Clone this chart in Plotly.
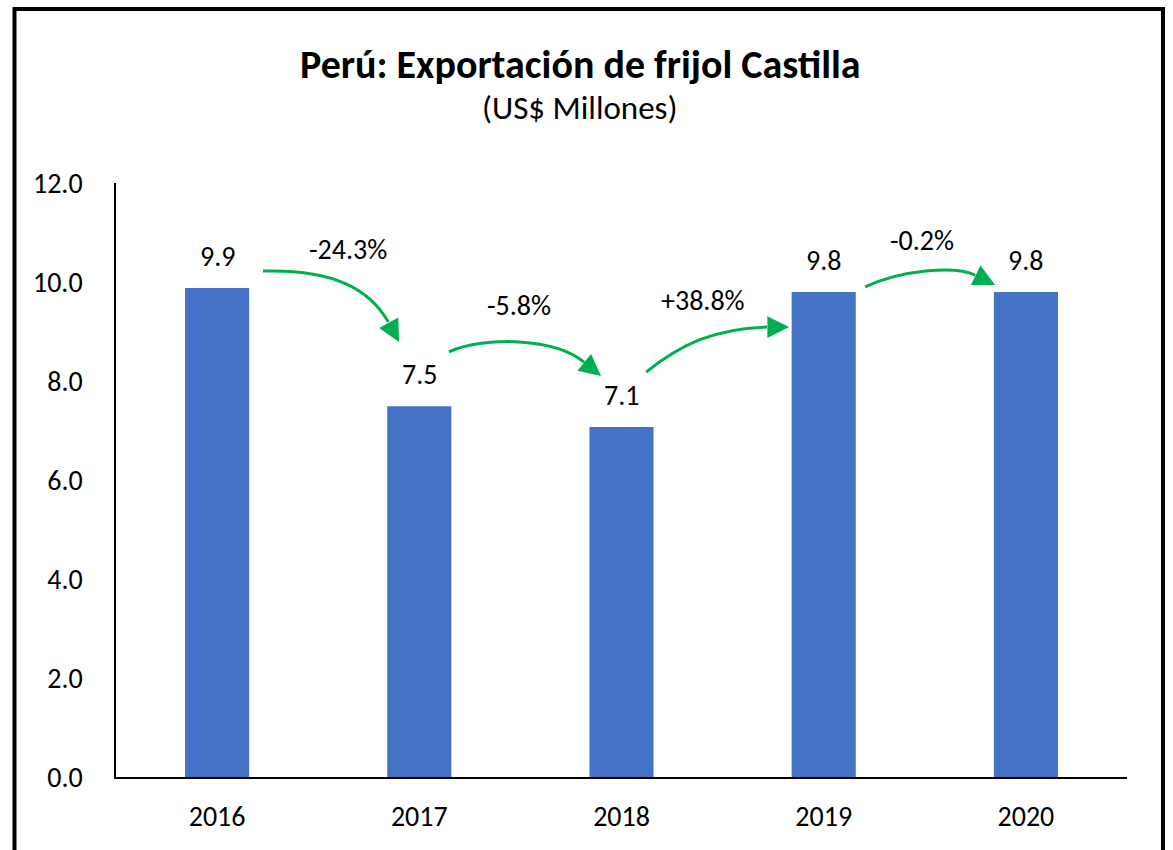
import plotly.graph_objects as go

years = ["2016", "2017", "2018", "2019", "2020"]
values = [9.88, 7.49, 7.07, 9.80, 9.80]
value_labels = ["9.9", "7.5", "7.1", "9.8", "9.8"]
change_labels = ["-24.3%", "-5.8%", "+38.8%", "-0.2%"]
y_ticks = [0, 2, 4, 6, 8, 10, 12]

BLUE = "#4472C4"
GREEN = "#00B050"
FONT = "Carlito, Lato, sans-serif"

x = list(range(len(years)))

fig = go.Figure(go.Bar(
    x=x, y=values, width=0.317, marker_color=BLUE, marker_line_width=0,
    hoverinfo="skip",
))

# value labels above bars
for i, v in enumerate(values):
    fig.add_annotation(x=i, y=v, text=value_labels[i], showarrow=False,
                       yanchor="bottom", yshift=12,
                       font=dict(size=28, color="black", family=FONT))

# curved arrows between bars (bezier control points in data units)
arrows = [
    [(0.227, 10.22), (0.584, 10.26), (0.757, 9.84), (0.900, 8.79)],
    [(1.147, 8.59), (1.325, 8.91), (1.672, 8.87), (1.899, 8.10)],
    [(2.122, 8.18), (2.290, 8.73), (2.463, 9.07), (2.829, 9.09)],
    [(3.205, 9.90), (3.378, 10.24), (3.650, 10.34), (3.848, 9.94)],
]
heads_from = [(0.847, 9.19), (1.815, 8.38), (2.720, 9.09), (3.749, 10.14)]
label_pos = [(0.648, 10.65), (1.494, 9.52), (2.404, 9.62), (3.487, 10.83)]

for pts, base, lab, txt in zip(arrows, heads_from, label_pos, change_labels):
    (x0, y0), (x1, y1), (x2, y2), (x3, y3) = pts
    bx, by = base
    fig.add_shape(type="path", xref="x", yref="y",
                  path=f"M {x0},{y0} C {x1},{y1} {x2},{y2} {bx},{by}",
                  line=dict(color=GREEN, width=3))
    fig.add_annotation(x=x3, y=y3, ax=bx, ay=by, axref="x", ayref="y",
                       xref="x", yref="y", text="", showarrow=True,
                       arrowhead=2, arrowsize=1.45, arrowwidth=3,
                       arrowcolor=GREEN, standoff=0)
    fig.add_annotation(x=lab[0], y=lab[1], text=txt, showarrow=False,
                       font=dict(size=28, color="black", family=FONT))

# title and subtitle
fig.add_annotation(x=0.459, y=1.2003, xref="paper", yref="paper",
                   text="<b>Perú: Exportación de frijol Castilla</b>",
                   showarrow=False, yanchor="middle",
                   font=dict(size=40, color="black", family=FONT))
fig.add_annotation(x=0.459, y=1.1263, xref="paper", yref="paper",
                   text="(US$ Millones)", showarrow=False, yanchor="middle",
                   font=dict(size=33, color="black", family=FONT))

# outer frame
fig.add_shape(type="rect", xref="paper", yref="paper",
              x0=-0.1004, x1=1.0356, y0=-0.25, y1=1.2929,
              line=dict(color="black", width=4), fillcolor="rgba(0,0,0,0)")

fig.update_layout(
    width=1173, height=850,
    margin=dict(l=116, r=46, t=183, b=73),
    paper_bgcolor="white", plot_bgcolor="white",
    showlegend=False,
    font=dict(family=FONT, color="black"),
    xaxis=dict(
        range=[-0.5, 4.5], tickvals=x, ticktext=years,
        showgrid=False, zeroline=False, showline=True,
        linecolor="black", linewidth=2, ticks="",
        ticklabelstandoff=13,
        tickfont=dict(size=28, family=FONT, color="black"),
    ),
    yaxis=dict(
        range=[0, 12], tickvals=y_ticks,
        ticktext=[f"{t:.1f}" for t in y_ticks],
        showgrid=False, zeroline=False, showline=True,
        linecolor="black", linewidth=1.5, ticks="",
        ticklabelstandoff=26,
        tickfont=dict(size=28, family=FONT, color="black"),
    ),
)

fig.write_html(
    "out.html",
    config={"displayModeBar": False},
    post_script="document.documentElement.style.overflow='hidden';"
                "document.body.style.margin='0';"
                "document.body.style.overflow='hidden';",
)
